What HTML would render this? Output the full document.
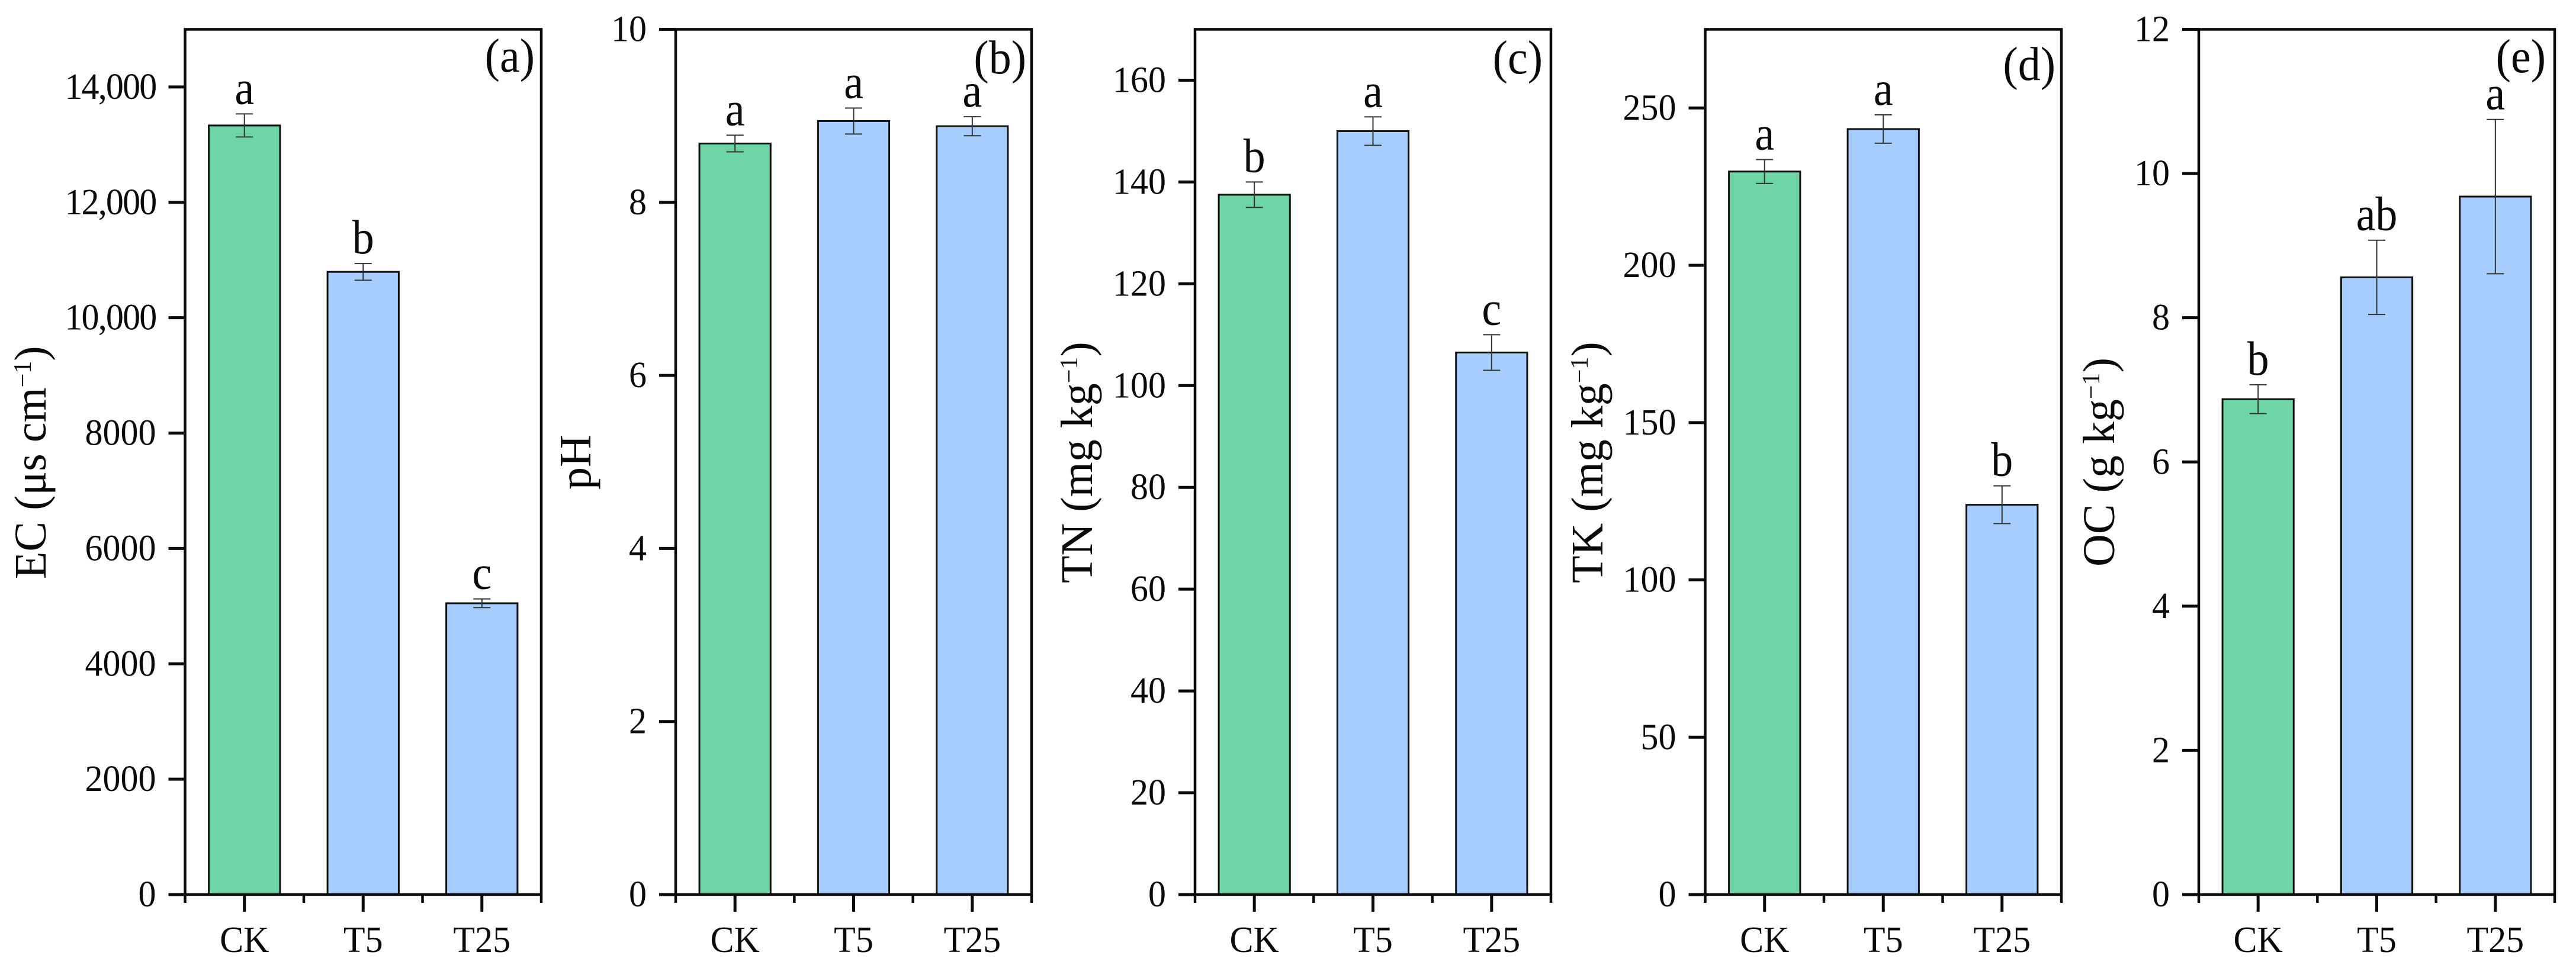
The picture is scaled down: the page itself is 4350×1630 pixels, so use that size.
<!DOCTYPE html>
<html lang="en">
<head>
<meta charset="utf-8">
<title>Soil properties bar charts</title>
<style>
html,body{margin:0;padding:0;background:#fff;width:4350px;height:1630px;overflow:hidden}
svg{display:block}
text{font-family:"Liberation Serif","Noto Serif CJK SC",serif;fill:#0a0a0a}
.title{font-size:76px}
.sup{font-size:42px}
</style>
</head>
<body>
<svg id="chart" xmlns="http://www.w3.org/2000/svg" width="4350" height="1630" viewBox="0 0 4350 1630">
  <rect x="0" y="0" width="4350" height="1630" fill="#ffffff"/>
  <text class="title" transform="translate(77,978) rotate(-90)">EC (μs cm<tspan class="sup" dy="-25">−1</tspan><tspan dy="25">)</tspan></text>
  <text class="title" transform="translate(997,827) rotate(-90)">pH</text>
  <text class="title" transform="translate(1844,985) rotate(-90)">TN (mg kg<tspan class="sup" dy="-25">−1</tspan><tspan dy="25">)</tspan></text>
  <text class="title" transform="translate(2706,985) rotate(-90)">TK (mg kg<tspan class="sup" dy="-25">−1</tspan><tspan dy="25">)</tspan></text>
  <text class="title" transform="translate(3570,957) rotate(-90)">OC (g kg<tspan class="sup" dy="-25">−1</tspan><tspan dy="25">)</tspan></text>
</svg>
<script>
const categories = ['CK', 'T5', 'T25'];

const ecValues = [13333, 10795, 5050];
const ecErrors = [200, 145, 75];
const ecLetters = ['a', 'b', 'c'];
const ecTicks = [0, 2000, 4000, 6000, 8000, 10000, 12000, 14000];
const ecTickLabels = ['0', '2000', '4000', '6000', '8000', '10,000', '12,000', '14,000'];

const phValues = [8.68, 8.94, 8.88];
const phErrors = [0.096, 0.15, 0.11];
const phLetters = ['a', 'a', 'a'];
const phTicks = [0, 2, 4, 6, 8, 10];
const phTickLabels = ['0', '2', '4', '6', '8', '10'];

const tnValues = [137.5, 150, 106.5];
const tnErrors = [2.5, 2.8, 3.5];
const tnLetters = ['b', 'a', 'c'];
const tnTicks = [0, 20, 40, 60, 80, 100, 120, 140, 160];
const tnTickLabels = ['0', '20', '40', '60', '80', '100', '120', '140', '160'];

const tkValues = [229.8, 243.3, 123.9];
const tkErrors = [3.8, 4.5, 6];
const tkLetters = ['a', 'a', 'b'];
const tkTicks = [0, 50, 100, 150, 200, 250];
const tkTickLabels = ['0', '50', '100', '150', '200', '250'];

const ocValues = [6.87, 8.56, 9.68];
const ocErrors = [0.2, 0.515, 1.07];
const ocLetters = ['b', 'ab', 'a'];
const ocTicks = [0, 2, 4, 6, 8, 10, 12];
const ocTickLabels = ['0', '2', '4', '6', '8', '10', '12'];

const svg = document.getElementById('chart');
const NS = 'http://www.w3.org/2000/svg';
const plotTop = 49.5;
const plotBottom = 1511;
const barColors = ['#6ed6a6', '#a6cdfe', '#a6cdfe'];
const ink = '#0a0a0a';

function make(tag, parent) {
  const el = document.createElementNS(NS, tag);
  parent.appendChild(el);
  return el;
}

function line(parent, x1, y1, x2, y2, width, color) {
  const el = make('line', parent);
  el.setAttribute('x1', x1);
  el.setAttribute('y1', y1);
  el.setAttribute('x2', x2);
  el.setAttribute('y2', y2);
  el.setAttribute('stroke', color);
  el.setAttribute('stroke-width', width);
  return el;
}

function label(parent, x, y, size, anchor, stretch, content) {
  const el = make('text', parent);
  el.setAttribute('transform', 'translate(' + x + ',' + y + ') scale(1,' + stretch + ')');
  el.setAttribute('font-size', size);
  el.setAttribute('text-anchor', anchor);
  el.textContent = content;
  return el;
}

function drawPanel(id, left, right, yMax, values, errors, letters, ticks, tickLabels, tag, tagRight, tagBaseline) {
  const g = make('g', svg);
  
  

  const yScale = v => plotBottom - (v / yMax) * (plotBottom - plotTop);
  const band = (right - left) / categories.length;
  const xScale = i => left + (i + 0.5) * band;
  const barWidth = band * 0.6;

  categories.forEach((cat, i) => {
    const cx = xScale(i);
    const top = yScale(values[i]);

    const bar = make('rect', g);
    bar.setAttribute('x', cx - barWidth / 2);
    bar.setAttribute('y', top);
    bar.setAttribute('width', barWidth);
    bar.setAttribute('height', plotBottom - top);
    bar.setAttribute('fill', barColors[i]);
    bar.setAttribute('stroke', '#111111');
    bar.setAttribute('stroke-width', 3);
    
    

    const hi = yScale(values[i] + errors[i]);
    const lo = yScale(values[i] - errors[i]);
    const capHalf = 14.5;

    const stem = line(g, cx, hi, cx, lo, 2, '#333333');
    
    

    const capHi = line(g, cx - capHalf, hi, cx + capHalf, hi, 2, '#333333');
    
    

    const capLo = line(g, cx - capHalf, lo, cx + capHalf, lo, 2, '#333333');
    
    

    const sig = label(g, cx, hi - 17, 74, 'middle', 1.1, letters[i]);
    
    

    const majorTick = line(g, cx, plotBottom, cx, 1540, 5, ink);
    
    

    const xLab = label(g, cx, 1608, 60, 'middle', 1.04, cat);
    
    
  });

  for (let i = 0; i <= categories.length; i++) {
    const mx = left + i * band;
    const minor = line(g, mx, plotBottom, mx, 1525, 4.5, ink);
    
    
  }

  ticks.forEach((t, i) => {
    const ty = yScale(t);
    const tick = line(g, left - 28, ty, left, ty, 5, ink);
    
    

    const tl = label(g, left - 49, ty + 20, 60, 'end', 1.04, tickLabels[i]);
    if (tickLabels[i].indexOf(',') >= 0) {
      tl.setAttribute('letter-spacing', '-1.8');
    }
    
    
  });

  const frame = make('rect', g);
  frame.setAttribute('x', left);
  frame.setAttribute('y', plotTop);
  frame.setAttribute('width', right - left);
  frame.setAttribute('height', plotBottom - plotTop);
  frame.setAttribute('fill', 'none');
  frame.setAttribute('stroke', ink);
  frame.setAttribute('stroke-width', 4.5);
  
  

  const tagText = label(g, tagRight, tagBaseline, 76, 'end', 1.06, tag);
  
  
}

drawPanel('ec', 312.5, 914, 15000, ecValues, ecErrors, ecLetters, ecTicks, ecTickLabels, '(a)', 903, 121);
drawPanel('ph', 1141, 1742, 10, phValues, phErrors, phLetters, phTicks, phTickLabels, '(b)', 1733, 124);
drawPanel('tn', 2018, 2619, 170, tnValues, tnErrors, tnLetters, tnTicks, tnTickLabels, '(c)', 2605, 124);
drawPanel('tk', 2879.5, 3481, 275, tkValues, tkErrors, tkLetters, tkTicks, tkTickLabels, '(d)', 3471, 135);
drawPanel('oc', 3713, 4314, 12, ocValues, ocErrors, ocLetters, ocTicks, ocTickLabels, '(e)', 4299, 122);
</script>
</body>
</html>
